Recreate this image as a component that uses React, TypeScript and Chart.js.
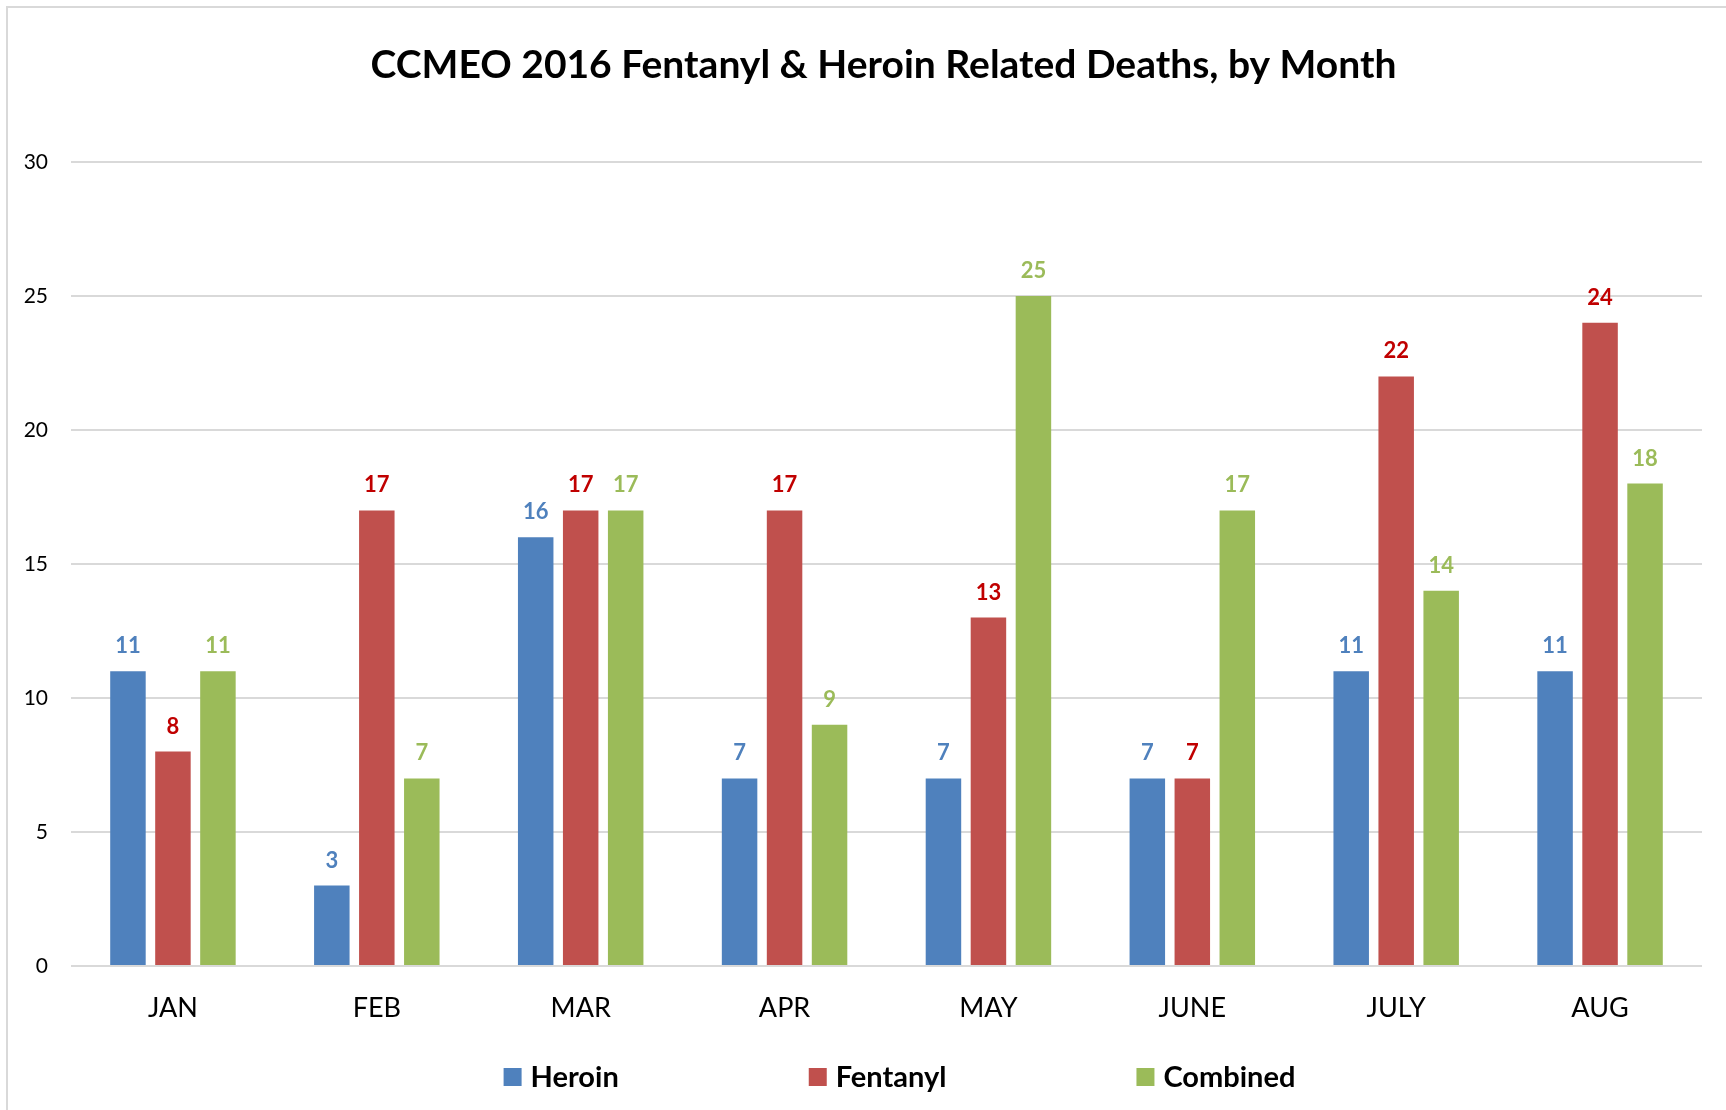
import React, { useEffect, useRef } from "react";
import { Chart, registerables } from "chart.js";

Chart.register(...registerables);

const months = ["JAN", "FEB", "MAR", "APR", "MAY", "JUNE", "JULY", "AUG"];
const heroin = [11, 3, 16, 7, 7, 7, 11, 11];
const fentanyl = [8, 17, 17, 17, 13, 7, 22, 24];
const combined = [11, 7, 17, 9, 25, 17, 14, 18];
const seriesNames = ["Heroin", "Fentanyl", "Combined"];
const titleText = "CCMEO 2016 Fentanyl & Heroin Related Deaths, by Month";

const barColors = ["#4F81BD", "#C0504D", "#9BBB59"];
const labelColors = ["#4F81BD", "#C00000", "#9BBB59"];
const FONT = "Lato, 'Open Sans', sans-serif";

const W = 1726;
const H = 1110;

const overlayPlugin = {
  id: "overlay",
  afterDatasetsDraw(chart: any) {
    const ctx = chart.ctx;
    ctx.save();
    ctx.font = `bold 22px ${FONT}`;
    ctx.textAlign = "center";
    ctx.textBaseline = "alphabetic";
    chart.data.datasets.forEach((ds: any, i: number) => {
      const meta = chart.getDatasetMeta(i);
      ctx.fillStyle = labelColors[i];
      meta.data.forEach((bar: any, j: number) => {
        ctx.fillText(String(ds.data[j]), bar.x, bar.y - 18);
      });
    });
    ctx.restore();
  },
  afterDraw(chart: any) {
    const ctx = chart.ctx;
    const area = chart.chartArea;
    const cx = (area.left + area.right) / 2;
    ctx.save();
    // title
    ctx.font = `bold 39px ${FONT}`;
    ctx.fillStyle = "#000000";
    ctx.textAlign = "center";
    ctx.textBaseline = "alphabetic";
    ctx.fillText(titleText, cx - 3, 78);
    // legend
    ctx.font = `bold 29px ${FONT}`;
    const box = 18;
    const gapText = 9;
    const gapItems = 190;
    const widths = seriesNames.map((n) => box + gapText + ctx.measureText(n).width);
    const total = widths.reduce((a, b) => a + b, 0) + gapItems * (seriesNames.length - 1);
    let x = cx + 13 - total / 2;
    const yc = chart.height - 33;
    ctx.textAlign = "left";
    seriesNames.forEach((n, i) => {
      ctx.fillStyle = barColors[i];
      ctx.fillRect(x, yc - box / 2, box, box);
      ctx.fillStyle = "#000000";
      ctx.fillText(n, x + box + gapText, yc + 10);
      x += widths[i] + gapItems;
    });
    ctx.restore();
  },
};

export default function App() {
  const ref = useRef<HTMLCanvasElement | null>(null);

  useEffect(() => {
    document.body.style.margin = "0";
    const canvas = ref.current;
    if (!canvas) return;
    const chart = new Chart(canvas, {
      type: "bar",
      data: {
        labels: months,
        datasets: [
          { label: seriesNames[0], data: heroin, backgroundColor: barColors[0] },
          { label: seriesNames[1], data: fentanyl, backgroundColor: barColors[1] },
          { label: seriesNames[2], data: combined, backgroundColor: barColors[2] },
        ],
      },
      options: {
        responsive: false,
        animation: false,
        devicePixelRatio: 1,
        categoryPercentage: 0.662,
        barPercentage: 0.789,
        layout: { padding: { top: 162, left: 0, right: 24, bottom: 0 } },
        plugins: {
          legend: { display: false },
          title: { display: false },
          tooltip: { enabled: false },
        },
        scales: {
          x: {
            grid: { display: false, drawTicks: false },
            border: { display: false },
            ticks: {
              color: "#000000",
              font: { family: FONT, size: 27 },
              padding: 26,
              maxRotation: 0,
              autoSkip: false,
            },
            afterFit(scale: any) {
              scale.height = 144;
            },
          },
          y: {
            min: 0,
            max: 30,
            ticks: {
              stepSize: 5,
              color: "#000000",
              font: { family: FONT, size: 21 },
              padding: 23,
            },
            grid: { color: "#D9D9D9", lineWidth: 2, drawTicks: false },
            border: { display: false },
            afterFit(scale: any) {
              scale.width = 71;
            },
          },
        },
      },
      plugins: [overlayPlugin],
    });
    return () => chart.destroy();
  }, []);

  return (
    <div style={{ position: "relative", width: W, height: H, overflow: "hidden", background: "#ffffff" }}>
      <div
        style={{
          position: "absolute",
          left: 6,
          top: 6,
          width: 1800,
          height: 1200,
          borderLeft: "2px solid #D9D9D9",
          borderTop: "2px solid #D9D9D9",
          boxSizing: "border-box",
        }}
      />
      <canvas ref={ref} width={W} height={H} style={{ position: "absolute", left: 0, top: 0 }} />
    </div>
  );
}
